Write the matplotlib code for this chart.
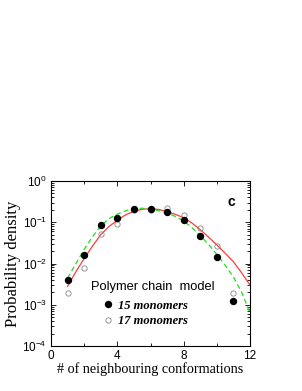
import matplotlib
matplotlib.use("Agg")
import matplotlib.pyplot as plt
from matplotlib.ticker import LogLocator, NullFormatter, FixedLocator, FixedFormatter

plt.rcParams["mathtext.fontset"] = "custom"
plt.rcParams["mathtext.rm"] = "Liberation Sans"
plt.rcParams["mathtext.it"] = "Liberation Sans:italic"
plt.rcParams["mathtext.bf"] = "Liberation Sans:bold"
plt.rcParams["font.family"] = ["Liberation Sans", "DejaVu Sans"]

# data
n_conf = [1, 2, 3, 4, 5, 6, 7, 8, 9, 10, 11]
p15 = [0.0039, 0.0158, 0.085, 0.127, 0.21, 0.21, 0.175, 0.112, 0.047, 0.014, 0.00126]
p17 = [0.0019, 0.0077, 0.053, 0.093, 0.20, 0.20, 0.22, 0.148, 0.074, 0.026, 0.0019]

fit_x = [1, 1.5, 2, 2.5, 3, 3.5, 4, 4.5, 5, 5.5, 6, 6.5, 7, 7.5, 8, 8.5, 9, 9.5, 10, 10.5, 11, 11.5, 12]
fit_red = [0.0028, 0.0063, 0.0132, 0.0263, 0.050, 0.079, 0.112, 0.151, 0.186, 0.206, 0.214, 0.204,
           0.182, 0.155, 0.129, 0.0955, 0.066, 0.0437, 0.0282, 0.0178, 0.011, 0.0059, 0.0030]
fit_green = [0.0044, 0.010, 0.0219, 0.0447, 0.0813, 0.123, 0.158, 0.19, 0.211, 0.219, 0.209, 0.19,
             0.17, 0.138, 0.107, 0.0741, 0.0479, 0.0288, 0.0166, 0.0091, 0.0047, 0.0020, 0.00063]

legend_title = "Polymer chain  model"
labels = ["15 monomers", "17 monomers"]
x_ticks = [0, 4, 8, 12]
x_minor = [2, 6, 10]

fig = plt.figure(figsize=(3.02, 3.91), dpi=100)
ax = fig.add_axes([51/302, 45/391, 199/302, 165/391])

ax.plot(fit_x, fit_red, color="#ff3b3b", lw=0.9, zorder=2)
ax.plot(fit_x, fit_green, color="#22dd22", lw=0.9, ls=(0, (4, 2.5)), zorder=2)
h15, = ax.plot(n_conf, p15, ls="none", marker="o", ms=4.3, mfc="black", mec="black", zorder=4, label=labels[0])
h17, = ax.plot(n_conf, p17, ls="none", marker="o", ms=3.8, mfc="none", mec="#888888", mew=0.6, zorder=3, label=labels[1])

ax.set_yscale("log")
ax.set_xlim(0, 12)
ax.set_ylim(1e-4, 1)
ax.xaxis.set_major_locator(FixedLocator(x_ticks))
ax.xaxis.set_major_formatter(FixedFormatter([str(v) for v in x_ticks]))
ax.xaxis.set_minor_locator(FixedLocator(x_minor))
ax.yaxis.set_major_locator(LogLocator(base=10, numticks=10))
ax.yaxis.set_minor_locator(LogLocator(base=10, subs=range(2, 10), numticks=20))
ax.yaxis.set_minor_formatter(NullFormatter())

ax.tick_params(which="both", direction="in", top=True, right=True, labelsize=8.5, width=0.6)
ax.tick_params(which="major", length=3.5, pad=3)
ax.tick_params(which="minor", length=2)
for sp in ax.spines.values():
    sp.set_linewidth(0.8)

ax.set_ylabel("Probability density", family="Liberation Serif", fontsize=12, labelpad=1)
ax.set_xlabel("# of neighbouring conformations", family="Liberation Serif", fontsize=10.2, labelpad=0)

ax.text(0.905, 0.875, "c", transform=ax.transAxes, fontsize=10, fontweight="bold", ha="center", va="center")
ax.text(0.51, 0.355, legend_title, transform=ax.transAxes, fontsize=9.3, ha="center", va="center")

leg = ax.legend(handles=[h15, h17], loc="upper left", bbox_to_anchor=(0.24, 0.31), frameon=False,
                handlelength=0.6, handletextpad=0.5, labelspacing=0.25, borderaxespad=0,
                prop={"family": "Liberation Serif", "weight": "bold", "style": "italic", "size": 9})

fig.savefig("out.png", dpi=100)
